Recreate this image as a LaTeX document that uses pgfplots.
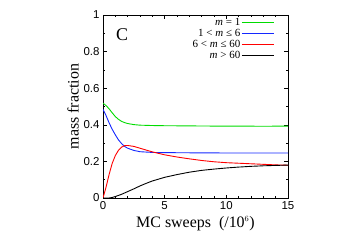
\documentclass[border=0pt]{standalone}
\usepackage{fontspec}
\setmainfont{Liberation Serif}
\setsansfont{Liberation Sans}
\usepackage{pgfplots}
\pgfplotsset{compat=1.18}

\definecolor{mgreen}{RGB}{0,220,0}
\definecolor{mblue}{RGB}{20,40,255}
\definecolor{mred}{RGB}{255,0,0}

\pgfplotsset{
  long line legend/.style={
    legend image code/.code={\draw[##1] (0bp,0bp) -- (32bp,0bp);}},
}

\begin{document}
\begin{tikzpicture}
\begin{axis}[
  scale only axis,
  width=185bp, height=183bp,
  xmin=0, xmax=15, ymin=0, ymax=1,
  xtick={0,5,10,15}, ytick={0,0.2,0.4,0.6,0.8,1},
  minor xtick={1,2,3,4,6,7,8,9,11,12,13,14},
  minor ytick={0.1,0.3,0.5,0.7,0.9},
  tick align=inside, tick pos=both,
  major tick length=3.5bp, minor tick length=2bp,
  axis line style={line width=0.6pt},
  tick style={line width=0.5pt, black},
  /pgf/number format/assume math mode=true,
  tick label style={font=\sffamily\fontsize{11.5}{13}\selectfont},
  label style={font=\fontsize{16}{18}\selectfont},
  xlabel={MC sweeps\ \ (/10$^{\scriptscriptstyle 6}$)},
  ylabel={mass fraction},
  ylabel style={yshift=-2bp},
  legend plot pos=right,
  legend cell align=right,
  legend style={draw=none, fill=none, at={(0.93,0.99)}, anchor=north east,
    font=\fontsize{11}{12}\selectfont, row sep=0pt, inner sep=0.5bp,
    nodes={inner sep=1bp}},
  long line legend,
]
\addlegendimage{mgreen, line width=1.1pt}
\addlegendentry{\textit{m} = 1}
\addlegendimage{mblue, line width=1.1pt}
\addlegendentry{1 < \textit{m} ≤ 6}
\addlegendimage{mred, line width=1.1pt}
\addlegendentry{6 < \textit{m} ≤ 60}
\addlegendimage{black, line width=1.1pt}
\addlegendentry{\textit{m} > 60}
\addplot[mgreen, line width=0.9pt, forget plot] coordinates {(0,0.518)(0.25,0.505)(0.5,0.487)(0.75,0.465)(1,0.445)(1.25,0.43)(1.5,0.419)(1.75,0.412)(2,0.407)(2.5,0.401)(3,0.398)(4,0.396)(5,0.395)(7,0.394)(9,0.393)(11,0.393)(13,0.392)(15,0.393)};
\addplot[mblue, line width=0.9pt, forget plot] coordinates {(0,0.485)(0.25,0.45)(0.5,0.41)(0.75,0.375)(1,0.345)(1.25,0.318)(1.5,0.298)(1.75,0.282)(2,0.272)(2.5,0.26)(3,0.253)(4,0.249)(5,0.248)(7,0.247)(10,0.246)(15,0.246)};
\addplot[mred, line width=0.9pt, forget plot] coordinates {(0,0)(0.25,0.06)(0.5,0.13)(0.75,0.19)(1,0.232)(1.25,0.26)(1.5,0.278)(1.75,0.286)(2,0.287)(2.5,0.282)(3,0.272)(3.5,0.262)(4,0.252)(5,0.236)(6,0.224)(7,0.214)(8,0.205)(9,0.198)(10,0.193)(11,0.19)(12,0.187)(13,0.184)(14,0.181)(15,0.179)};
\addplot[black, line width=0.9pt, forget plot] coordinates {(0,0)(0.5,0.0)(0.75,0.003)(1,0.008)(1.5,0.02)(2,0.035)(2.5,0.05)(3,0.066)(3.5,0.08)(4,0.093)(5,0.113)(6,0.128)(7,0.141)(8,0.151)(9,0.158)(10,0.164)(11,0.169)(12,0.173)(13,0.176)(14,0.178)(15,0.18)};
\node[font=\fontsize{18}{20}\selectfont, anchor=center] at (axis cs:1.55,0.895) {C};
\end{axis}
\pgfresetboundingbox
\path[use as bounding box] (current axis.south west) ++(-103bp,-50bp) rectangle ++(354bp,248bp);
\end{tikzpicture}
\end{document}
